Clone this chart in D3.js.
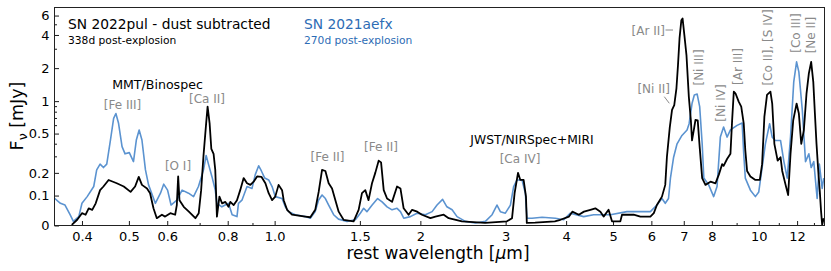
<!DOCTYPE html>
<html lang="en">
<head>
<meta charset="utf-8">
<title>SN 2022pul vs SN 2021aefx</title>
<script src="https://d3js.org/d3.v7.min.js"></script>
<style>
  body { margin: 0; background: #fff; }
  text { font-family: "DejaVu Sans", sans-serif; }
</style>
</head>
<body>
<script>
// ---- data ----
// SN 2021aefx, 270d (blue)
var blueWave = [0.351,0.361,0.369,0.378,0.384,0.394,0.400,0.410,0.423,0.429,0.436,0.443,0.450,0.458,0.465,0.470,0.476,0.484,0.491,0.501,0.511,0.518,0.525,0.532,0.541,0.549,0.567,0.581,0.590,0.601,0.611,0.628,0.644,0.664,0.680,0.696,0.713,0.722,0.730,0.742,0.754,0.760,0.778,0.803,0.817,0.836,0.842,0.856,0.877,0.898,0.912,0.927,0.939,0.954,0.972,0.988,1.003,1.036,1.052,1.069,1.103,1.157,1.185,1.213,1.232,1.253,1.273,1.293,1.324,1.355,1.411,1.468,1.503,1.527,1.551,1.590,1.632,1.667,1.707,1.748,1.790,1.819,1.848,1.907,1.968,2.048,2.115,2.165,2.223,2.269,2.326,2.381,2.477,2.598,2.725,2.813,2.879,2.926,2.996,3.069,3.117,3.167,3.244,3.295,3.321,3.402,3.568,3.801,3.955,4.082,4.349,4.56,4.937,5.343,5.972,6.16,6.31,6.41,6.51,6.57,6.67,6.78,6.94,7.11,7.18,7.28,7.36,7.46,7.55,7.64,7.70,7.88,8.07,8.20,8.33,8.46,8.60,8.74,9.02,9.24,9.31,9.38,9.61,9.84,10.00,10.16,10.32,10.53,10.66,10.82,11.09,11.27,11.45,11.63,11.81,11.97,12.10,12.30,12.49,12.69,12.83,12.99,13.20,13.34,13.52,13.62];
var blueFlux = [0.090,0.072,0.066,0.034,0.013,0.028,0.072,0.096,0.136,0.216,0.249,0.229,0.249,0.434,0.695,0.77,0.624,0.375,0.318,0.327,0.265,0.434,0.541,0.434,0.216,0.143,0.072,0.109,0.146,0.121,0.066,0.083,0.121,0.109,0.096,0.136,0.216,0.306,0.249,0.182,0.121,0.072,0.060,0.072,0.034,0.028,0.072,0.083,0.136,0.128,0.191,0.239,0.210,0.174,0.165,0.136,0.096,0.089,0.060,0.044,0.034,0.028,0.023,0.044,0.083,0.102,0.089,0.066,0.034,0.020,0.013,0.018,0.039,0.055,0.044,0.066,0.089,0.077,0.060,0.050,0.055,0.044,0.023,0.028,0.039,0.034,0.044,0.066,0.086,0.060,0.050,0.028,0.013,0.008,0.013,0.034,0.066,0.044,0.039,0.066,0.136,0.165,0.165,0.109,0.023,0.023,0.026,0.023,0.018,0.039,0.028,0.034,0.034,0.044,0.044,0.066,0.089,0.072,0.089,0.174,0.294,0.399,0.48,0.541,0.619,0.95,1.14,1.16,0.89,0.399,0.174,0.143,0.096,0.136,0.463,0.576,0.463,0.541,0.597,0.628,0.318,0.174,0.121,0.096,0.114,0.229,0.399,0.619,0.463,0.430,0.430,0.265,0.174,0.463,1.50,2.28,1.85,0.83,0.265,0.318,0.229,0.265,0.089,0.249,0.128,0.174];

// SN 2022pul, 338d, dust subtracted (black)
var blackWave = [0.381,0.391,0.400,0.407,0.413,0.420,0.427,0.436,0.443,0.454,0.472,0.488,0.504,0.515,0.524,0.532,0.545,0.553,0.562,0.571,0.585,0.594,0.609,0.623,0.628,0.632,0.636,0.649,0.665,0.686,0.697,0.705,0.713,0.722,0.727,0.734,0.740,0.748,0.754,0.760,0.769,0.779,0.791,0.803,0.810,0.823,0.836,0.849,0.863,0.877,0.891,0.905,0.920,0.939,0.957,0.972,0.988,1.003,1.019,1.036,1.044,1.061,1.086,1.157,1.185,1.213,1.233,1.253,1.273,1.293,1.314,1.335,1.356,1.388,1.456,1.491,1.515,1.539,1.563,1.589,1.614,1.640,1.659,1.680,1.707,1.748,1.790,1.819,1.847,1.891,1.923,1.970,2.015,2.098,2.148,2.235,2.288,2.437,2.721,3.018,3.093,3.131,3.182,3.217,3.268,3.305,3.318,3.452,3.791,3.893,4.055,4.120,4.250,4.354,4.489,4.597,4.708,4.781,4.895,4.975,5.177,5.218,5.514,5.695,5.972,6.07,6.16,6.31,6.41,6.46,6.55,6.62,6.69,6.76,6.81,6.86,6.92,6.96,7.02,7.09,7.17,7.24,7.28,7.34,7.40,7.48,7.55,7.64,7.76,7.95,8.14,8.27,8.40,8.46,8.60,8.74,8.81,8.88,8.95,9.09,9.20,9.31,9.38,9.46,9.61,9.84,10.05,10.16,10.27,10.40,10.57,10.66,10.77,10.94,11.09,11.18,11.36,11.50,11.63,11.78,11.97,12.10,12.24,12.39,12.55,12.69,12.83,12.96,13.06,13.16,13.27,13.37,13.45,13.52,13.62];
var blackFlux = [0.002,0.018,0.039,0.034,0.055,0.050,0.072,0.121,0.136,0.165,0.150,0.136,0.114,0.136,0.180,0.143,0.128,0.109,0.055,0.023,0.034,0.028,0.039,0.034,0.066,0.182,0.083,0.060,0.044,0.023,0.039,0.121,0.306,0.624,0.89,0.624,0.357,0.318,0.216,0.028,0.096,0.072,0.077,0.060,0.077,0.066,0.083,0.121,0.174,0.150,0.143,0.157,0.182,0.180,0.150,0.109,0.083,0.096,0.143,0.121,0.083,0.050,0.034,0.028,0.026,0.050,0.114,0.216,0.210,0.150,0.128,0.083,0.044,0.018,0.013,0.050,0.109,0.121,0.083,0.150,0.200,0.271,0.260,0.121,0.089,0.077,0.136,0.128,0.055,0.034,0.050,0.044,0.034,0.023,0.028,0.034,0.023,0.013,0.008,0.013,0.023,0.109,0.200,0.165,0.165,0.096,0.008,0.009,0.013,0.018,0.028,0.044,0.034,0.044,0.050,0.055,0.044,0.028,0.050,0.013,0.013,0.034,0.034,0.028,0.028,0.039,0.066,0.096,0.143,0.294,0.576,0.83,0.92,1.31,2.13,3.72,5.45,5.65,3.98,2.63,1.10,0.665,0.43,0.536,0.67,0.665,0.371,0.174,0.143,0.157,0.150,0.191,0.249,0.239,0.282,0.318,0.665,1.22,1.18,0.99,0.89,0.619,0.344,0.210,0.182,0.165,0.165,0.249,0.715,1.14,1.22,0.95,0.399,0.271,0.294,0.210,0.143,0.102,0.318,0.665,0.95,0.77,0.399,0.536,1.18,1.79,2.28,1.50,0.77,0.399,0.210,0.114,0.044,0.002,0.023];

// axis ticks
var xMajor = [0.4, 0.5, 0.6, 0.8, 1.0, 1.5, 2, 3, 4, 5, 6, 7, 8, 10, 12];
var xLabels = ["0.4", "0.5", "0.6", "0.8", "1.0", "1.5", "2", "3", "4", "5", "6", "7", "8", "10", "12"];
var xMinor = [0.7, 0.9, 9, 11, 13];
var yMajor = [0, 0.1, 0.2, 0.5, 1, 2, 4, 6];
var yLabels = ["0", "0.1", "0.2", "0.5", "1", "2", "4", "6"];
var yMinor = [0.3, 0.4, 0.6, 0.7, 0.8, 0.9, 3, 5];

// ---- layout ----
var w = 831, h = 271;
var padL = 54.5, padR = 824.5, padT = 7.5, padB = 225.5;

var svg = d3.select("body").append("svg").attr("width", w).attr("height", h);

var x = d3.scaleLog().domain([0.351, 13.67]).range([padL, padR]);

// asinh y axis (linear near zero, log above)
var linW = 0.15;
function yT(v) { return Math.asinh(v / linW); }
var yLin = d3.scaleLinear().domain([0, yT(7.1)]).range([padB, padT]);
function y(v) { return yLin(yT(v)); }

svg.append("clipPath").attr("id", "clip")
  .append("rect").attr("x", padL).attr("y", padT)
  .attr("width", padR - padL).attr("height", padB - padT);

var line = d3.line().x(function(d) { return x(d[0]); }).y(function(d) { return y(d[1]); });

var blue = "#5b93d0";
svg.append("path")
  .datum(blueWave.map(function(d, i) { return [d, blueFlux[i]]; }))
  .attr("clip-path", "url(#clip)")
  .attr("fill", "none").attr("stroke", blue).attr("stroke-width", 1.6)
  .attr("stroke-linejoin", "round")
  .attr("d", line);

svg.append("path")
  .datum(blackWave.map(function(d, i) { return [d, blackFlux[i]]; }))
  .attr("clip-path", "url(#clip)")
  .attr("fill", "none").attr("stroke", "#000").attr("stroke-width", 1.8)
  .attr("stroke-linejoin", "round")
  .attr("d", line);

// axes (ticks pointing inwards)
svg.append("g").attr("transform", "translate(0," + padB + ")")
  .call(d3.axisBottom(x).tickValues(xMajor)
    .tickFormat(function(d, i) { return xLabels[i]; })
    .tickSizeInner(-4.5).tickSizeOuter(0).tickPadding(6));
svg.append("g").attr("transform", "translate(0," + padB + ")")
  .call(d3.axisBottom(x).tickValues(xMinor).tickFormat("").tickSizeInner(-2.5).tickSizeOuter(0));

svg.append("g").attr("transform", "translate(" + padL + ",0)")
  .call(d3.axisLeft(yLin).tickValues(yMajor.map(yT))
    .tickFormat(function(d, i) { return yLabels[i]; })
    .tickSizeInner(-4.5).tickSizeOuter(0).tickPadding(5));
svg.append("g").attr("transform", "translate(" + padL + ",0)")
  .call(d3.axisLeft(yLin).tickValues(yMinor.map(yT)).tickFormat("").tickSizeInner(-2.5).tickSizeOuter(0));

svg.selectAll(".domain").remove();
svg.selectAll(".tick line").attr("stroke", "#000").attr("stroke-width", 0.9);
svg.selectAll(".tick text").attr("font-size", 13).attr("fill", "#000")
  .style("font-family", "DejaVu Sans");

svg.append("rect").attr("x", padL).attr("y", padT)
  .attr("width", padR - padL).attr("height", padB - padT)
  .attr("fill", "none").attr("stroke", "#222").attr("stroke-width", 1);

// axis labels
svg.append("text").attr("x", 438).attr("y", 259)
  .attr("text-anchor", "middle").attr("font-size", 17)
  .html('rest wavelength [<tspan font-style="italic">μ</tspan>m]');

svg.append("text").attr("transform", "translate(23,116) rotate(-90)")
  .attr("text-anchor", "middle").attr("font-size", 17.5)
  .html('F<tspan font-size="12.5" dy="4">ν</tspan><tspan dy="-4"> [mJy]</tspan>');

// legend-like titles
svg.append("text").attr("x", 68).attr("y", 29).attr("font-size", 13.8).text("SN 2022pul - dust subtracted");
svg.append("text").attr("x", 68).attr("y", 44).attr("font-size", 10.7).text("338d post-explosion");
svg.append("text").attr("x", 304).attr("y", 29).attr("font-size", 13.8).attr("fill", "#2d6cb5").text("SN 2021aefx");
svg.append("text").attr("x", 304).attr("y", 44).attr("font-size", 10.7).attr("fill", "#2d6cb5").text("270d post-explosion");

svg.append("text").attr("x", 157.5).attr("y", 89).attr("text-anchor", "middle").attr("font-size", 12.6).text("MMT/Binospec");
svg.append("text").attr("x", 532).attr("y", 144).attr("text-anchor", "middle").attr("font-size", 12.3).text("JWST/NIRSpec+MIRI");

// line identifications
var grey = "#8a8a8a";
var flat = [
  ["[Fe III]", 122.5, 109],
  ["[Ca II]", 207, 103],
  ["[O I]", 178, 170],
  ["[Fe II]", 327.5, 161],
  ["[Fe II]", 381, 151],
  ["[Ca IV]", 520, 163]
];
flat.forEach(function(l) {
  svg.append("text").attr("x", l[1]).attr("y", l[2]).attr("text-anchor", "middle")
    .attr("font-size", 12).attr("fill", grey).text(l[0]);
});
svg.append("text").attr("x", 665).attr("y", 34.5).attr("text-anchor", "end")
  .attr("font-size", 12).attr("fill", grey).text("[Ar II]");
svg.append("line").attr("x1", 665.5).attr("y1", 30).attr("x2", 673).attr("y2", 30)
  .attr("stroke", grey).attr("stroke-width", 1);
svg.append("text").attr("x", 670).attr("y", 92.5).attr("text-anchor", "end")
  .attr("font-size", 12).attr("fill", grey).text("[Ni II]");
svg.append("line").attr("x1", 664.3).attr("y1", 96.7).attr("x2", 669.3).attr("y2", 103.3)
  .attr("stroke", grey).attr("stroke-width", 1);

var rotated = [
  ["[Ni III]", 699, 67.5],
  ["[Ni IV]", 721, 103],
  ["[Ar III]", 737.5, 66.5],
  ["[Co II], [S IV]", 768, 47.5],
  ["[Co III]", 795.5, 33],
  ["[Ne II]", 810.5, 35]
];
rotated.forEach(function(l) {
  svg.append("text").attr("transform", "translate(" + l[1] + "," + l[2] + ") rotate(-90)")
    .attr("text-anchor", "middle").attr("dy", "0.35em")
    .attr("font-size", 12).attr("fill", grey).text(l[0]);
});
</script>
</body>
</html>
